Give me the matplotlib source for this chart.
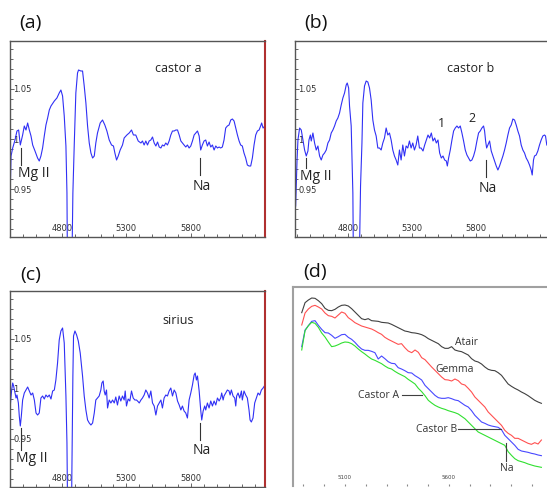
import numpy as np
import matplotlib
matplotlib.use('Agg')
import matplotlib.pyplot as plt

# ---- (a) castor a ----
wl_a = [4398, 4405, 4418, 4436, 4451, 4464, 4477, 4495, 4508, 4521, 4534, 4547, 4560, 4573, 4591,
        4611, 4624, 4637, 4650, 4663, 4676, 4689, 4702, 4715, 4741, 4761, 4779, 4792, 4805, 4818,
        4831, 4839, 4844, 4875, 4885, 4896, 4908, 4921, 4929, 4947, 4960, 4973, 4986, 4999, 5012,
        5025, 5038, 5051, 5063, 5076, 5097, 5115, 5133, 5149, 5167, 5185, 5200, 5211, 5224, 5237,
        5252, 5270, 5283, 5304, 5322, 5340, 5355, 5373, 5392,
        5413, 5425, 5438, 5451, 5464, 5477, 5490, 5503, 5516, 5529, 5542, 5555, 5568, 5580, 5593,
        5606, 5619, 5632, 5645, 5658, 5671, 5684, 5697, 5710, 5723, 5735, 5748, 5761, 5774, 5787,
        5800, 5813, 5826, 5839, 5852, 5865, 5877, 5890, 5903, 5916, 5929, 5942, 5955, 5968, 5981,
        5994, 6007, 6020, 6032, 6045, 6058, 6071, 6084, 6097, 6110, 6123, 6136, 6149, 6162, 6175,
        6187, 6200, 6213, 6226, 6239, 6252, 6265, 6278, 6291, 6304, 6317, 6330, 6342, 6350, 6361, 6376]
fl_a = [0.943, 0.983, 0.991, 0.999, 1.008, 1.009, 0.994, 1.004, 1.013, 1.009, 1.016, 1.009, 1.003, 0.994, 0.988,
        0.981, 0.978, 0.983, 0.991, 1.003, 1.014, 1.021, 1.029, 1.033, 1.038, 1.041, 1.046, 1.049, 1.043, 1.023,
        0.993, 0.946, 0.85, 0.85, 0.946, 0.996, 1.046, 1.066, 1.069, 1.068, 1.068, 1.053, 1.036, 1.013, 0.996,
        0.986, 0.981, 0.983, 0.996, 1.006, 1.016, 1.019, 1.014, 1.008, 0.999, 0.994, 0.993, 0.986, 0.979, 0.983,
        0.989, 0.994, 1.001, 1.004, 1.006, 1.009, 1.004, 1.004, 0.998,
        0.996, 0.998, 0.994, 0.998, 0.994, 0.998, 0.999, 1.002, 0.996, 0.993, 0.997, 0.992, 0.991, 0.994, 0.993,
        0.996, 0.994, 0.998, 1.004, 1.008, 1.008, 1.009, 1.009, 1.004, 0.998, 0.996, 0.994, 0.992, 0.994, 0.991,
        0.993, 0.998, 1.004, 1.006, 1.008, 1.003, 0.989, 0.994, 0.998, 0.999, 0.993, 0.997, 0.992, 0.994, 0.989,
        0.993, 0.991, 0.992, 0.991, 0.992, 0.999, 1.011, 1.013, 1.014, 1.019, 1.020, 1.018, 1.011, 1.004, 0.998,
        0.994, 0.993, 0.986, 0.981, 0.974, 0.973, 0.973, 0.981, 0.994, 1.004, 1.008, 1.009, 1.013, 1.016, 1.011, 1.013]

# ---- (b) castor b ----
wl_b = [4389, 4400, 4407, 4420, 4433, 4446, 4459, 4472, 4485, 4493, 4504, 4511, 4524, 4537, 4550,
        4563, 4576, 4589, 4602, 4615, 4628, 4641, 4654, 4667, 4680, 4693, 4706, 4719, 4732, 4745,
        4758, 4771, 4784, 4792, 4803, 4810, 4823, 4836, 4842, 4883, 4896, 4907, 4914, 4927, 4940,
        4953, 4966, 4979, 4992, 5005, 5018, 5031, 5044, 5057, 5070, 5083, 5096, 5109, 5122, 5135,
        5148, 5161, 5174, 5187, 5200, 5213, 5226, 5239, 5252, 5265, 5278, 5291, 5304, 5317, 5330,
        5343, 5356, 5369,
        5384, 5397, 5410, 5423, 5436, 5449, 5462, 5475, 5488, 5501, 5514, 5527, 5540, 5553, 5566,
        5574, 5584, 5597, 5610, 5623, 5636, 5649, 5662, 5675, 5688, 5701, 5714, 5727, 5740, 5753,
        5766, 5779, 5792, 5805, 5818, 5831, 5844, 5857, 5865, 5873, 5881, 5891, 5904, 5917, 5930,
        5943, 5956, 5969, 5982, 5995, 6008, 6021, 6034, 6047, 6060, 6073, 6086, 6099, 6112, 6125,
        6138, 6151, 6164, 6177, 6190, 6203, 6216, 6229, 6237, 6247, 6255, 6268, 6281, 6294, 6307,
        6320, 6333, 6341, 6351]
fl_b = [0.933, 0.979, 0.999, 1.011, 1.009, 0.999, 0.989, 0.983, 0.988, 0.999, 1.004, 0.998, 1.006, 0.996, 0.989,
        0.993, 0.983, 0.979, 0.984, 0.986, 0.989, 0.996, 0.999, 1.006, 1.009, 1.013, 1.018, 1.021, 1.026, 1.034,
        1.041, 1.046, 1.054, 1.056, 1.051, 1.033, 1.013, 0.946, 0.85, 0.85, 0.953, 0.996, 1.036, 1.053, 1.058,
        1.057, 1.051, 1.039, 1.019, 1.009, 1.003, 0.991, 0.991, 0.989, 0.996, 1.001, 1.011, 1.004, 1.006, 0.999,
        0.989, 0.983, 0.979, 0.974, 0.989, 0.979, 0.994, 0.983, 0.993, 0.991, 0.998, 0.991, 0.996, 0.989, 0.994,
        1.003, 0.991, 0.991,
        0.988, 0.994, 0.999, 1.004, 1.001, 1.006, 0.998, 1.001, 0.996, 0.999, 0.986, 0.981, 0.983, 0.979, 0.978,
        0.973, 0.981, 0.989, 0.999, 1.008, 1.011, 1.013, 1.011, 1.013, 1.006, 0.998, 0.989, 0.984, 0.981, 0.978,
        0.979, 0.983, 0.989, 0.998, 1.006, 1.008, 1.011, 1.013, 1.008, 0.998, 0.991, 0.994, 0.998, 0.988, 0.983,
        0.978, 0.973, 0.969, 0.973, 0.978, 0.983, 0.989, 0.996, 1.004, 1.011, 1.014, 1.020, 1.019, 1.014, 1.008,
        1.003, 0.994, 0.989, 0.986, 0.981, 0.978, 0.974, 0.969, 0.964, 0.979, 0.983, 0.984, 0.988, 0.994, 0.999,
        1.003, 1.004, 1.003, 0.994]

# ---- (c) sirius ----
wl_c = [4398, 4404, 4410, 4418, 4425, 4436, 4444, 4451, 4462, 4469, 4477, 4485, 4495, 4508, 4521,
        4534, 4547, 4560, 4573, 4586, 4599, 4611, 4624, 4637, 4650, 4663, 4676, 4689, 4702, 4715,
        4728, 4741, 4753, 4766, 4779, 4792, 4805, 4818, 4831, 4839, 4846, 4872, 4880, 4885, 4890,
        4901, 4914, 4927, 4942, 4960, 4973, 4986, 4999, 5012, 5025, 5038, 5051, 5063, 5076, 5089,
        5102, 5110, 5120, 5128, 5136, 5146, 5154, 5167, 5180, 5193, 5206, 5218, 5231, 5244, 5257,
        5270, 5283, 5291, 5301, 5314, 5327, 5340, 5353, 5366, 5379, 5394,
        5400, 5413, 5425, 5438, 5451, 5464, 5477, 5490, 5503, 5516, 5529, 5542, 5555, 5568, 5580,
        5593, 5606, 5619, 5632, 5645, 5658, 5671, 5684, 5697, 5710, 5723, 5735, 5748, 5761, 5774,
        5787, 5800, 5813, 5826, 5834, 5844, 5852, 5865, 5877, 5885, 5896, 5908, 5916, 5929, 5942,
        5955, 5968, 5981, 5994, 6007, 6020, 6032, 6040, 6051, 6058, 6071, 6084, 6097, 6105, 6115,
        6128, 6141, 6149, 6156, 6167, 6180, 6193, 6200, 6213, 6226, 6239, 6252, 6260, 6270, 6283,
        6296, 6309, 6322, 6335, 6348, 6361, 6371]
fl_c = [0.981, 0.991, 0.999, 1.006, 1.003, 0.996, 0.991, 0.994, 0.986, 0.973, 0.963, 0.973, 0.989, 0.996, 0.999,
        1.002, 0.998, 0.994, 0.996, 0.989, 0.976, 0.974, 0.976, 0.991, 0.993, 0.990, 0.994, 0.992, 0.994, 0.990,
        0.998, 0.999, 1.009, 1.026, 1.049, 1.058, 1.061, 1.046, 0.993, 0.946, 0.85, 0.85, 0.953, 1.013, 1.053,
        1.058, 1.054, 1.048, 1.036, 1.013, 0.993, 0.979, 0.969, 0.966, 0.964, 0.966, 0.976, 0.989, 0.991, 0.993,
        0.999, 1.006, 1.008, 0.998, 0.994, 0.999, 0.981, 0.989, 0.986, 0.989, 0.986, 0.992, 0.984, 0.993, 0.988,
        0.993, 0.989, 0.998, 0.983, 0.990, 0.988, 0.998, 0.991, 0.989, 0.989, 0.987,
        0.986, 0.989, 0.991, 0.994, 0.999, 0.996, 0.991, 0.998, 0.986, 0.983, 0.974, 0.983, 0.986, 0.989, 0.981,
        0.991, 0.994, 0.993, 0.998, 1.001, 0.993, 0.999, 0.996, 0.988, 0.984, 0.979, 0.983, 0.978, 0.976, 0.971,
        0.989, 0.996, 1.004, 1.014, 1.016, 1.009, 1.013, 0.998, 0.979, 0.969, 0.978, 0.983, 0.979, 0.986, 0.981,
        0.988, 0.983, 0.988, 0.984, 0.991, 0.988, 0.991, 0.996, 0.989, 0.993, 0.996, 0.999, 0.998, 0.994, 0.999,
        0.993, 0.991, 0.983, 0.993, 0.996, 0.991, 0.998, 0.989, 0.998, 0.994, 0.991, 0.979, 0.969, 0.967, 0.971,
        0.986, 0.991, 0.996, 0.994, 0.999, 1.001, 1.003]

# ---- (d) raw spectra (relative flux) ----
wl_d = [4892, 4908, 4924, 4940, 4956, 4972, 4988, 5004, 5020, 5036, 5052, 5068, 5084, 5100, 5116,
        5132, 5148, 5164, 5180, 5196, 5212, 5228, 5244, 5260, 5276, 5292, 5308, 5324, 5340, 5356,
        5372, 5388, 5404, 5421, 5437, 5453, 5469, 5485, 5501, 5517, 5533, 5549, 5565, 5581, 5597,
        5613, 5629, 5645, 5661, 5677, 5693, 5709, 5725, 5741, 5757, 5773, 5789, 5805, 5821, 5837,
        5853, 5869, 5885, 5901, 5917, 5933, 5949, 5965, 5981, 5997, 6013, 6029, 6045]
atair = [1.064, 1.124, 1.140, 1.152, 1.150, 1.136, 1.118, 1.090, 1.078, 1.076, 1.084, 1.098, 1.108, 1.110, 1.104,
         1.088, 1.068, 1.048, 1.028, 1.022, 1.028, 1.016, 1.014, 1.012, 1.006, 1.004, 1.002, 0.994, 0.984, 0.974,
         0.964, 0.954, 0.950, 0.944, 0.942, 0.938, 0.932, 0.922, 0.908, 0.898, 0.888, 0.878, 0.860, 0.850, 0.850,
         0.860, 0.840, 0.834, 0.830, 0.820, 0.810, 0.788, 0.774, 0.768, 0.756, 0.738, 0.724, 0.718, 0.716, 0.704,
         0.688, 0.662, 0.636, 0.622, 0.610, 0.600, 0.588, 0.578, 0.566, 0.552, 0.538, 0.528, 0.520]
gemma = [0.990, 1.062, 1.086, 1.102, 1.108, 1.098, 1.086, 1.062, 1.046, 1.042, 1.032, 1.050, 1.068, 1.060, 1.034,
         1.020, 1.004, 0.994, 0.984, 0.978, 0.972, 0.966, 0.956, 0.944, 0.934, 0.916, 0.904, 0.894, 0.884, 0.874,
         0.878, 0.854, 0.834, 0.824, 0.840, 0.826, 0.794, 0.782, 0.760, 0.738, 0.718, 0.698, 0.678, 0.662, 0.660,
         0.654, 0.666, 0.656, 0.636, 0.630, 0.610, 0.588, 0.558, 0.538, 0.518, 0.498, 0.468, 0.448, 0.428, 0.408,
         0.388, 0.358, 0.340, 0.328, 0.310, 0.310, 0.300, 0.290, 0.280, 0.274, 0.284, 0.276, 0.300]
castor_B = [0.860, 0.960, 0.986, 1.012, 1.016, 0.988, 0.964, 0.944, 0.942, 0.928, 0.910, 0.920, 0.932, 0.934, 0.916,
            0.904, 0.886, 0.864, 0.846, 0.838, 0.838, 0.832, 0.824, 0.786, 0.804, 0.788, 0.770, 0.760, 0.758, 0.734,
            0.726, 0.716, 0.704, 0.702, 0.686, 0.674, 0.660, 0.628, 0.608, 0.588, 0.568, 0.554, 0.550, 0.550, 0.554,
            0.548, 0.540, 0.536, 0.522, 0.508, 0.498, 0.476, 0.448, 0.428, 0.408, 0.400, 0.390, 0.384, 0.380, 0.376,
            0.362, 0.328, 0.308, 0.288, 0.268, 0.244, 0.234, 0.230, 0.226, 0.220, 0.216, 0.210, 0.206]
castor_A = [0.840, 0.956, 0.986, 1.006, 1.000, 0.976, 0.942, 0.918, 0.888, 0.860, 0.864, 0.872, 0.882, 0.888, 0.886,
            0.878, 0.864, 0.846, 0.830, 0.816, 0.800, 0.786, 0.778, 0.768, 0.758, 0.744, 0.732, 0.726, 0.712, 0.700,
            0.690, 0.680, 0.664, 0.650, 0.636, 0.610, 0.590, 0.566, 0.538, 0.522, 0.508, 0.498, 0.490, 0.484, 0.476,
            0.470, 0.464, 0.456, 0.442, 0.428, 0.408, 0.388, 0.368, 0.348, 0.338, 0.328, 0.318, 0.308, 0.298, 0.288,
            0.278, 0.268, 0.230, 0.208, 0.188, 0.176, 0.170, 0.164, 0.156, 0.150, 0.144, 0.140, 0.136]

W, H = 547, 488
fig = plt.figure(figsize=(W / 100, H / 100), dpi=100)

def px_axes(x0, y0, x1, y1):
    # pixel box (top-left origin) -> axes
    return fig.add_axes([x0 / W, 1 - y1 / H, (x1 - x0) / W, (y1 - y0) / H])

TXT = 'Open Sans'
blue = '#3030f5'

def spectrum_axes(ax, xlim, right_red=True):
    ax.set_xlim(*xlim)
    ax.set_ylim(0.902, 1.098)
    ax.set_xticks([4800, 5300, 5800])
    ax.set_xticklabels(['4800', '5300', '5800'])
    ax.set_xticks(np.arange(4400, 6400, 100), minor=True)
    ax.set_yticks([0.95, 1.0, 1.05])
    ax.set_yticklabels(['0.95', '1', '1.05'])
    ax.set_yticks(np.arange(0.91, 1.095, 0.01), minor=True)
    ax.tick_params(which='both', direction='in', color='#666666', width=0.7)
    ax.tick_params(which='major', length=3)
    ax.tick_params(which='minor', length=2)
    ax.tick_params(axis='x', pad=-3, labelsize=6, labelcolor='#333333')
    ax.tick_params(axis='y', pad=-2.5, labelsize=6, labelcolor='#333333')
    for t in ax.get_yticklabels():
        t.set_horizontalalignment('left')
    for t in ax.get_xticklabels():
        t.set_verticalalignment('bottom')
    for s in ax.spines.values():
        s.set_color('#555555')
        s.set_linewidth(1.0)
    if right_red:
        ax.spines['right'].set_color('#b03030')
        ax.spines['right'].set_linewidth(1.5)

def mark(ax, x, y0, y1, label, ty, tx=None, size=10):
    ax.plot([x, x], [y0, y1], color='#333333', lw=0.8)
    ax.text(x if tx is None else tx, ty, label, ha='center', va='center',
            fontsize=size, family=TXT, color='#222222')

# (a)
ax_a = px_axes(10, 41, 265, 237)
ax_a.plot(wl_a, fl_a, color=blue, lw=0.8)
spectrum_axes(ax_a, (4397, 6376))
ax_a.text(5701, 1.071, 'castor a', ha='center', va='center', fontsize=9, family=TXT, color='#222222')
mark(ax_a, 4482, 0.991, 0.974, 'Mg II', 0.966, tx=4578)
mark(ax_a, 5870, 0.981, 0.964, 'Na', 0.953, tx=5883)

# (b)
ax_b = px_axes(295, 41, 550, 237)
ax_b.plot(wl_b, fl_b, color=blue, lw=0.8)
spectrum_axes(ax_b, (4384, 6376), right_red=False)
ax_b.text(5759, 1.070, 'castor b', ha='center', va='center', fontsize=9, family=TXT, color='#222222')
ax_b.text(5527, 1.016, '1', ha='center', va='center', fontsize=9, family=TXT, color='#222222')
ax_b.text(5769, 1.021, '2', ha='center', va='center', fontsize=9, family=TXT, color='#222222')
mark(ax_b, 4467, 0.981, 0.971, 'Mg II', 0.963, tx=4545)
mark(ax_b, 5873, 0.979, 0.962, 'Na', 0.951, tx=5886)

# (c)
ax_c = px_axes(10, 291, 265, 487)
ax_c.plot(wl_c, fl_c, color=blue, lw=0.8)
spectrum_axes(ax_c, (4397, 6376))
ax_c.text(5701, 1.069, 'sirius', ha='center', va='center', fontsize=9, family=TXT, color='#222222')
mark(ax_c, 4480, 0.961, 0.939, 'Mg II', 0.930, tx=4565)
mark(ax_c, 5870, 0.966, 0.949, 'Na', 0.938, tx=5887)

# (d)
ax_d = px_axes(293, 287, 552, 486)
ax_d.plot(wl_d, atair, color='#404040', lw=0.8)
ax_d.plot(wl_d, gemma, color='#ff5050', lw=0.8)
ax_d.plot(wl_d, castor_B, color='#4848ff', lw=0.8)
ax_d.plot(wl_d, castor_A, color='#30e030', lw=0.8)
ax_d.set_xlim(4850, 6096)
ax_d.set_ylim(0.024, 1.218)
ax_d.set_xticks([5100, 5600])
ax_d.set_xticklabels(['5100', '5600'])
ax_d.set_xticks(np.arange(4900, 6100, 100), minor=True)
ax_d.set_yticks([])
ax_d.tick_params(which='both', direction='in', length=1.5, color='#888888', width=0.8)
ax_d.tick_params(axis='x', pad=-4.3, labelsize=4, labelcolor='#444444')
for t in ax_d.get_xticklabels():
    t.set_verticalalignment('bottom')
for s in ax_d.spines.values():
    s.set_color('#a0a0a0')
    s.set_linewidth(1.5)
ax_d.spines['bottom'].set_visible(False)
lab = dict(fontsize=7.5, family=TXT, color='#333333', va='center')
ax_d.text(5685, 0.884, 'Atair', ha='center', **lab)
ax_d.text(5629, 0.726, 'Gemma', ha='center', **lab)
ax_d.text(5260, 0.566, 'Castor A', ha='center', **lab)
ax_d.plot([5372, 5469], [0.570, 0.570], color='#404040', lw=0.8)
ax_d.text(5541, 0.366, 'Castor B', ha='center', **lab)
ax_d.plot([5645, 5853], [0.364, 0.364], color='#404040', lw=0.8)
ax_d.text(5877, 0.130, 'Na', ha='center', **lab)
ax_d.plot([5877, 5877], [0.280, 0.176], color='#404040', lw=0.8)

# panel letters
for lbl, x, y in [('(a)', 30.5, 23), ('(b)', 315.5, 23), ('(c)', 30.5, 275), ('(d)', 315.5, 272)]:
    fig.text(x / W, 1 - y / H, lbl, ha='center', va='center', fontsize=14, family=TXT, color='#111111')

fig.savefig('out.png', dpi=100)
